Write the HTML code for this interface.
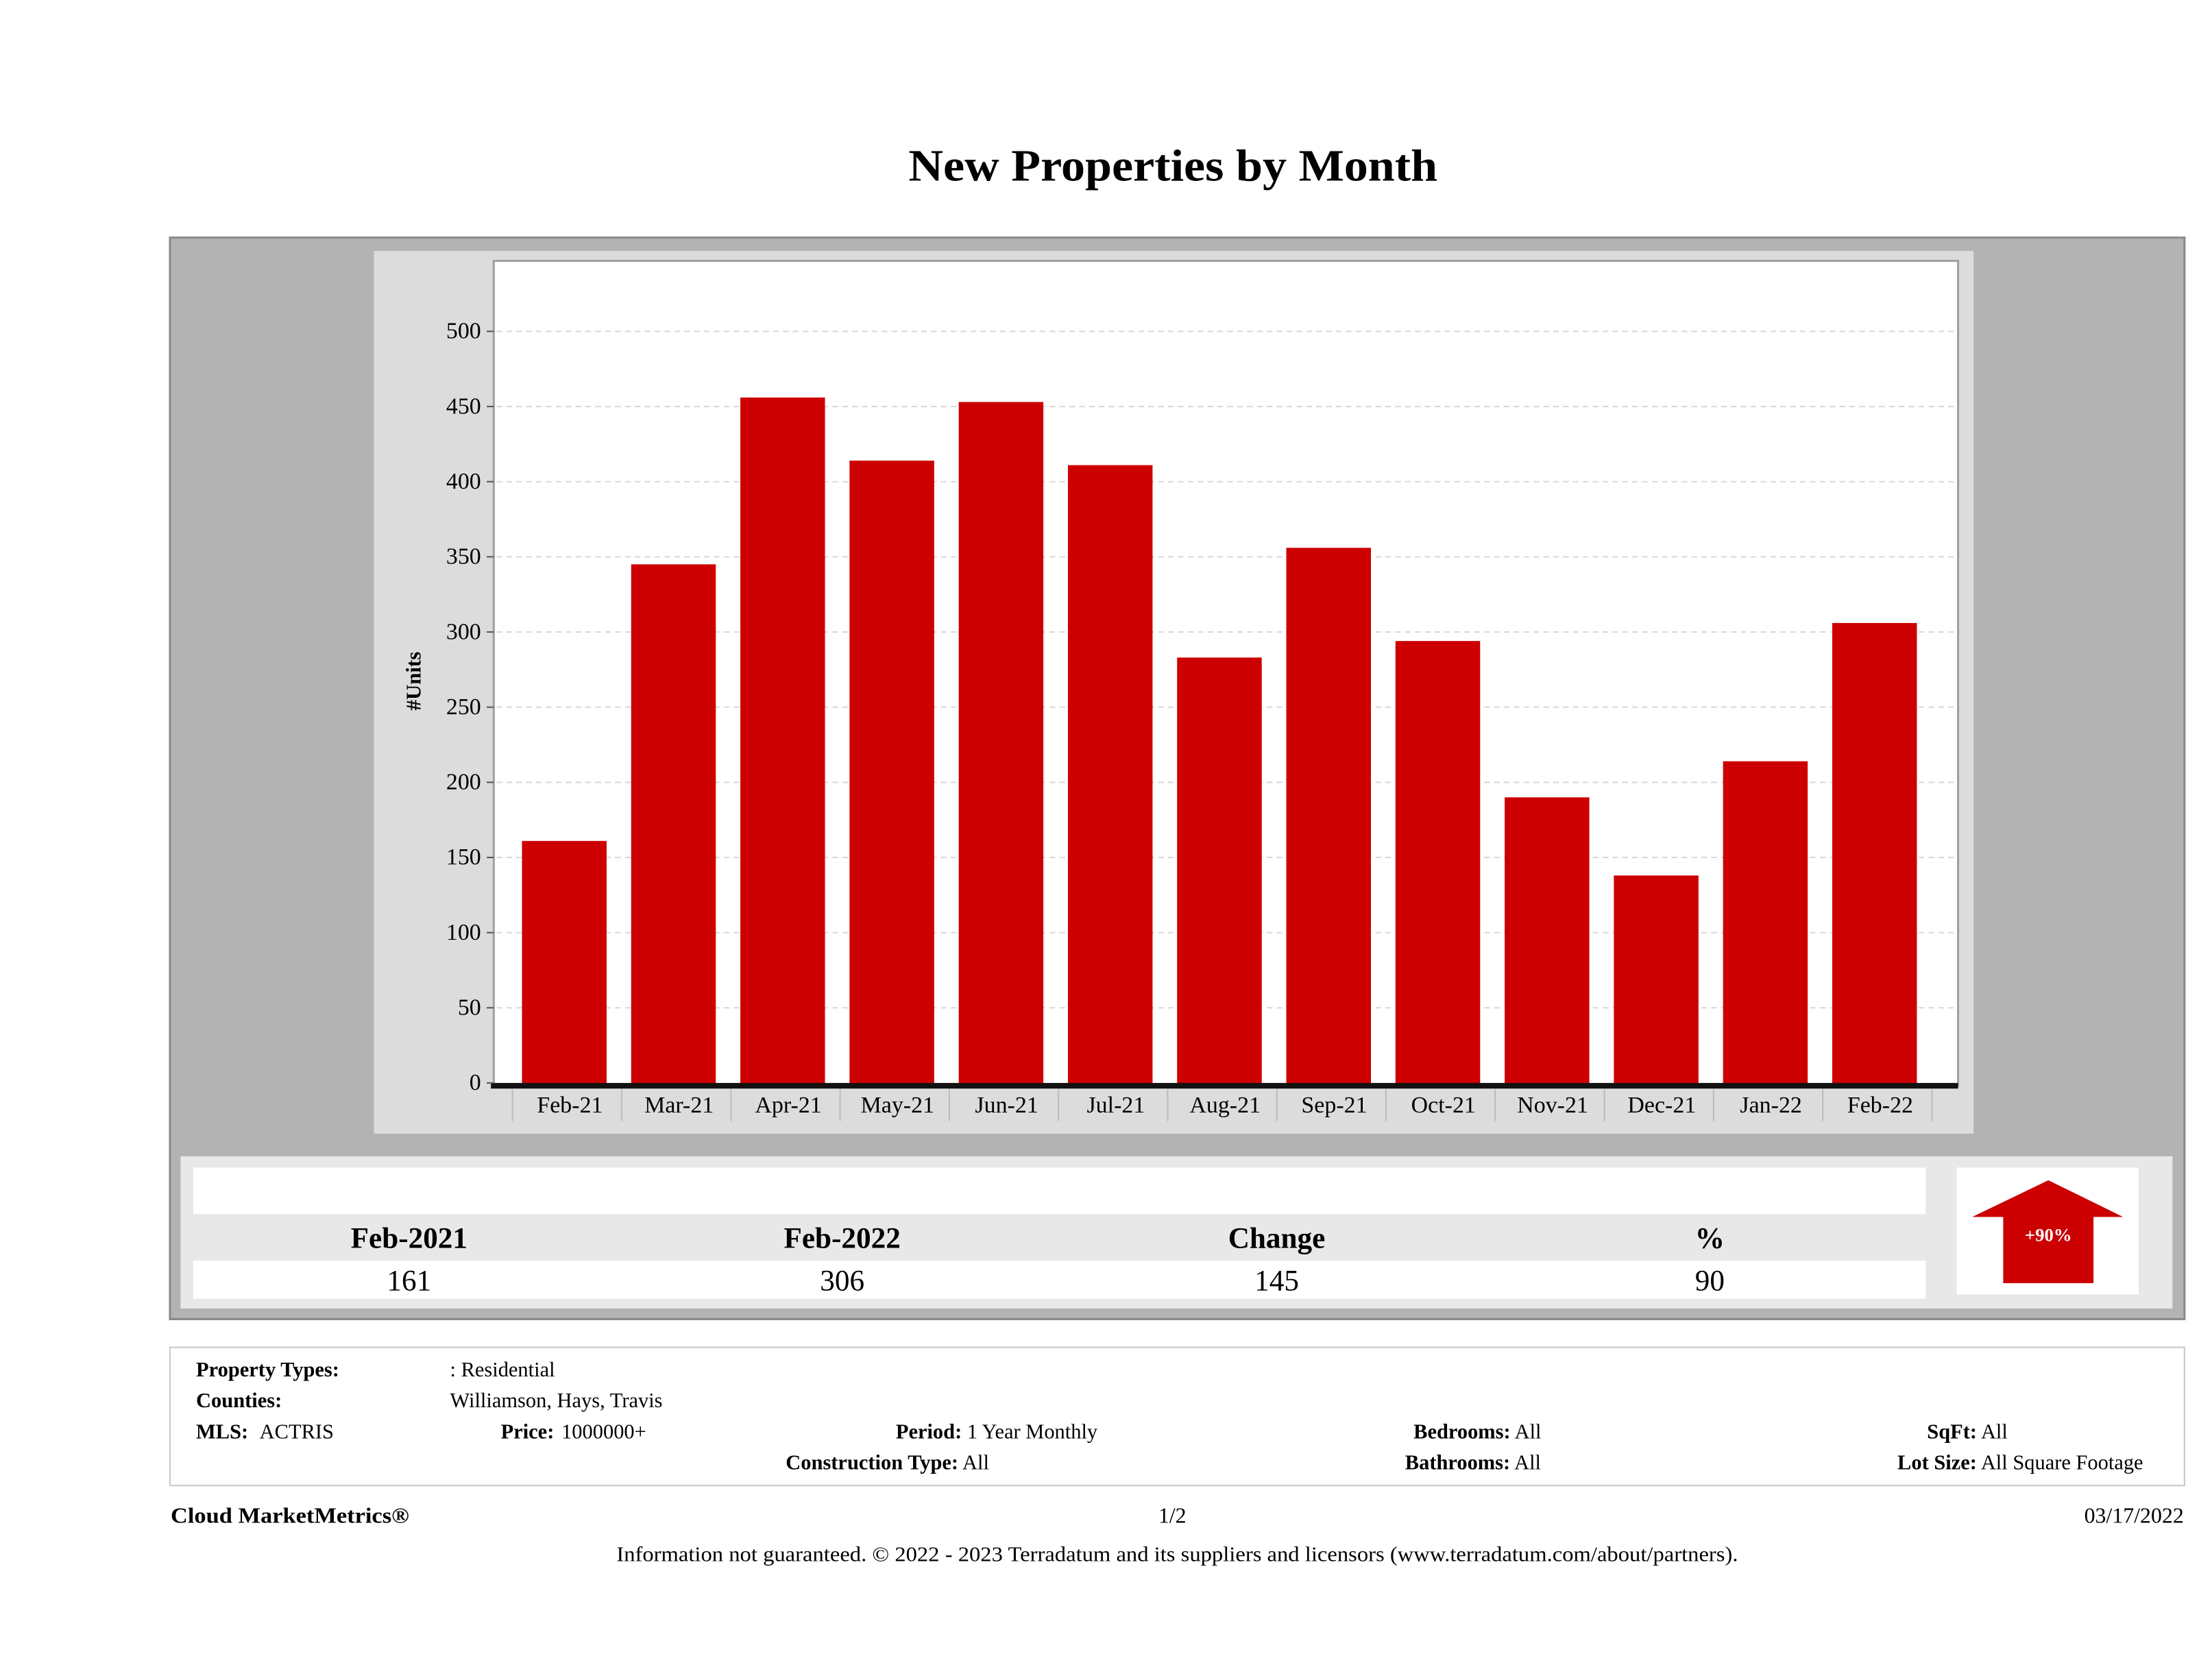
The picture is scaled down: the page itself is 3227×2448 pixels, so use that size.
<!DOCTYPE html>
<html><head><meta charset="utf-8"><style>
html,body{margin:0;padding:0;background:#fff;}
svg{display:block;font-family:"Liberation Serif",serif;}
</style></head><body>
<svg id="page" width="3227" height="2448" viewBox="0 0 1568 1190" preserveAspectRatio="none" xmlns="http://www.w3.org/2000/svg">
<text x="644" y="128" font-size="32" font-weight="bold" textLength="375" lengthAdjust="spacingAndGlyphs">New Properties by Month</text>
<rect x="120.5" y="168.5" width="1428" height="767" fill="#b3b3b3" stroke="#8a8a8a" stroke-width="1.5"/>
<rect x="265" y="178" width="1134" height="626" fill="#dcdcdc"/>
<rect x="350" y="185" width="1038" height="585" fill="#fff" stroke="#a0a0a0" stroke-width="1.5"/>
<g id="grid"></g>
<g id="bars"></g>
<g id="xaxis"></g>
<g id="yaxis"></g>
<text transform="translate(298,483) rotate(-90)" text-anchor="middle" font-size="15" font-weight="bold">#Units</text>

<rect x="128" y="820" width="1412" height="108" fill="#e8e8e8"/>
<rect x="137" y="828" width="1228" height="33" fill="#fff"/>
<rect x="137" y="894" width="1228" height="27" fill="#fff"/>
<g font-size="21" text-anchor="middle">
<text x="290" y="885" font-weight="bold">Feb-2021</text>
<text x="597" y="885" font-weight="bold">Feb-2022</text>
<text x="905" y="885" font-weight="bold">Change</text>
<text x="1212" y="885" font-weight="bold">%</text>
<text x="290" y="915">161</text>
<text x="597" y="915">306</text>
<text x="905" y="915">145</text>
<text x="1212" y="915">90</text>
</g>
<rect x="1387" y="828" width="129" height="90" fill="#fff"/>
<polygon points="1452,837 1505,863 1484,863 1484,910 1420,910 1420,863 1398,863" fill="#cc0000"/>
<text x="1452" y="880" text-anchor="middle" font-size="13" font-weight="bold" fill="#fff">+90%</text>

<rect x="120.5" y="955.5" width="1428" height="98" fill="#fff" stroke="#c8c8c8" stroke-width="1"/>
<g font-size="14.8">
<text x="139" y="976" font-weight="bold">Property Types:</text>
<text x="319" y="976">: Residential</text>
<text x="139" y="998" font-weight="bold">Counties:</text>
<text x="319" y="998">Williamson, Hays, Travis</text>
<text x="139" y="1020" font-weight="bold">MLS:</text>
<text x="184" y="1020">ACTRIS</text>
<text x="355" y="1020" font-weight="bold">Price:</text>
<text x="398" y="1020">1000000+</text>
<text x="635" y="1020"><tspan font-weight="bold">Period:</tspan> 1 Year Monthly</text>
<text x="1002" y="1020"><tspan font-weight="bold">Bedrooms:</tspan> All</text>
<text x="1366" y="1020"><tspan font-weight="bold">SqFt:</tspan>  All</text>
<text x="557" y="1042"><tspan font-weight="bold">Construction Type:</tspan> All</text>
<text x="996" y="1042"><tspan font-weight="bold">Bathrooms:</tspan> All</text>
<text x="1345" y="1042"><tspan font-weight="bold">Lot Size:</tspan>  All Square Footage</text>
</g>
<g font-size="15.5">
<text x="121" y="1080" font-weight="bold" textLength="169" lengthAdjust="spacingAndGlyphs">Cloud MarketMetrics®</text>
<text x="831" y="1080" text-anchor="middle">1/2</text>
<text x="1548" y="1080" text-anchor="end">03/17/2022</text>
<text x="437" y="1107" font-size="15" textLength="795" lengthAdjust="spacingAndGlyphs">Information not guaranteed. © 2022 - 2023 Terradatum and its suppliers and licensors (www.terradatum.com/about/partners).</text>
</g>
</svg>
<script>
const categories = ["Feb-21","Mar-21","Apr-21","May-21","Jun-21","Jul-21","Aug-21","Sep-21","Oct-21","Nov-21","Dec-21","Jan-22","Feb-22"];
const units = [161,345,456,414,453,411,283,356,294,190,138,214,306];
const yTicks = [0,50,100,150,200,250,300,350,400,450,500];
const NS="http://www.w3.org/2000/svg";
const y0=768, yScale=533/500, x0=400, step=77.4, bw=60;
function yPos(v){return y0 - v*yScale;}
function xPos(i){return x0 + i*step;}
function mk(tag,attrs,parent){const e=document.createElementNS(NS,tag);for(const k in attrs)e.setAttribute(k,attrs[k]);parent.appendChild(e);return e;}
const grid=document.getElementById('grid'), bars=document.getElementById('bars'), xa=document.getElementById('xaxis'), ya=document.getElementById('yaxis');
yTicks.forEach(t=>{
  const y=yPos(t);
  if(t>0){const g=mk('line',{x1:352,x2:1386,y1:y,y2:y,stroke:'#d8d8d8','stroke-width':1,'stroke-dasharray':'4,3'},grid);
  
  }
  const tk=mk('line',{x1:345,x2:350,y1:y,y2:y,stroke:'#555','stroke-width':1},ya);
  
  
  const tx=mk('text',{x:341,y:y+5,'text-anchor':'end','font-size':16.5},ya);
  tx.textContent=t;
  
  
});
units.forEach((v,i)=>{
  const r=mk('rect',{x:xPos(i)-bw/2,y:yPos(v),width:bw,height:y0-yPos(v)+1,fill:'#cc0000'},bars);
  
  
});
const ax=mk('rect',{x:348,y:768,width:1040,height:4,fill:'#111'},xa);


for(let i=0;i<=categories.length;i++){
  const x=xPos(i)-step/2+2;
  const s=mk('line',{x1:x,x2:x,y1:772,y2:795,stroke:'#bcbcbc','stroke-width':1},xa);
  
  
}
categories.forEach((c,i)=>{
  const t=mk('text',{x:xPos(i)+4,y:789,'text-anchor':'middle','font-size':16.5},xa);
  t.textContent=c;
  
  
});
</script>
</body></html>
